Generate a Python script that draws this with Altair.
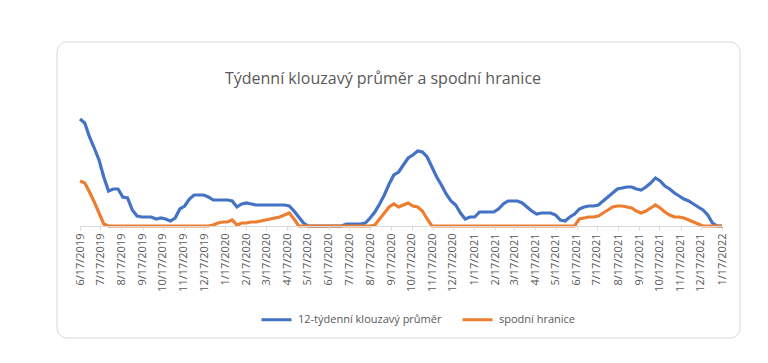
import altair as alt
import pandas as pd

# weekly points starting 6/17/2019
start_date = "2019-06-17"
n_weeks = 136

series_names = ["12-týdenní klouzavý průměr", "spodní hranice"]
series_colors = ["#4472C4", "#ED7D31"]

moving_avg = [107, 103, 89, 78, 66, 49, 35, 37, 37, 29,
              28, 16, 10, 9, 9, 9, 7, 8, 7, 5,
              8, 17, 20, 27, 31, 31, 31, 29, 26, 26,
              26, 26, 25, 19, 22, 23, 22, 21, 21, 21,
              21, 21, 21, 21, 20, 15, 9, 3, 0, 0,
              0, 0, 0, 0, 0, 0, 2, 2, 2, 2,
              3, 8, 14, 22, 31, 42, 51, 54, 61, 68,
              71, 75, 74, 69, 59, 49, 41, 32, 25, 21,
              13, 7, 9, 9, 14, 14, 14, 14, 17, 22,
              25, 25, 25, 23, 19, 15, 12, 13, 13, 13,
              11, 6, 5, 9, 12, 17, 19, 20, 20, 21,
              25, 29, 33, 37, 38, 39, 39, 37, 36, 39,
              43, 48, 45, 40, 37, 33, 30, 27, 25, 22,
              19, 16, 11, 3, 0, 0]

lower_bound = [45, 43, 34, 24, 13, 2, 0, 0, 0, 0,
               0, 0, 0, 0, 0, 0, 0, 0, 0, 0,
               0, 0, 0, 0, 0, 0, 0, 0, 1, 3,
               4, 4, 6, 1, 3, 3, 4, 4, 5, 6,
               7, 8, 9, 11, 13, 7, 0, 0, 0, 0,
               0, 0, 0, 0, 0, 0, 0, 0, 0, 0,
               0, 0, 1, 7, 13, 19, 22, 19, 21, 23,
               20, 19, 15, 7, 0, 0, 0, 0, 0, 0,
               0, 0, 0, 0, 0, 0, 0, 0, 0, 0,
               0, 0, 0, 0, 0, 0, 0, 0, 0, 0,
               0, 0, 0, 0, 0, 7, 8, 9, 9, 10,
               13, 16, 19, 20, 20, 19, 18, 15, 13, 15,
               18, 21, 18, 14, 11, 9, 9, 8, 6, 4,
               2, 0, 0, 0, 0, 0]

# tick labels: the 17th of every month, 6/2019 .. 1/2022
tick_months = [(2019, m) for m in range(6, 13)] + [(2020, m) for m in range(1, 13)] + \
              [(2021, m) for m in range(1, 13)] + [(2022, 1)]

dates = pd.date_range(start_date, periods=n_weeks, freq="7D").strftime("%Y-%m-%dT00:00:00")
df = pd.concat([
    pd.DataFrame({"date": dates, "value": moving_avg, "series": series_names[0]}),
    pd.DataFrame({"date": dates, "value": lower_bound, "series": series_names[1]}),
])

FONT = "Open Sans"
GREY = "#595959"

x_enc = alt.X(
    "date:T",
    scale=alt.Scale(domain=[alt.DateTime(year=2019, month=6, date=17),
                            alt.DateTime(year=2022, month=1, date=17)]),
    axis=alt.Axis(
        title=None,
        values=[alt.DateTime(year=y, month=m, date=17) for y, m in tick_months],
        format="%-m/%-d/%Y",
        labelAngle=-90,
        labelFontSize=11,
        labelColor=GREY,
        labelFont=FONT,
        labelPadding=3,
        labelOverlap=False,
        domainColor="#d9d9d9",
        tickColor="#d9d9d9",
        tickSize=4,
        grid=False,
        zindex=1,
    ),
)
y_enc = alt.Y("value:Q", scale=alt.Scale(domain=[0, 120]), axis=None)
color_enc = alt.Color(
    "series:N",
    scale=alt.Scale(domain=series_names, range=series_colors),
    legend=alt.Legend(
        title=None,
        orient="none",
        legendX=180,
        legendY=197,
        direction="horizontal",
        symbolType="stroke",
        symbolStrokeWidth=3,
        symbolSize=900,
        labelFontSize=11,
        labelFont=FONT,
        labelColor=GREY,
        labelOffset=5,
        columnPadding=14,
        padding=0,
    ),
)

box = alt.Chart(pd.DataFrame({"a": [0]})).mark_rect(
    fill="white", stroke="#d9d9d9", strokeWidth=1, cornerRadius=10
).encode(
    x=alt.value(-23), x2=alt.value(660), y=alt.value(-64), y2=alt.value(232)
)

base = alt.Chart(df)
blue = base.transform_filter(alt.datum.series == series_names[0]).mark_line(
    strokeWidth=3.2
).encode(x=x_enc, y=y_enc, color=color_enc)
orange = base.transform_filter(alt.datum.series == series_names[1]).mark_line(
    strokeWidth=3.2
).encode(x=x_enc, y=y_enc, color=color_enc)

chart = alt.layer(box, blue, orange).properties(
    width=642,
    height=120,
    autosize=alt.AutoSizeParams(type="none"),
    padding={"left": 72, "top": 98, "right": 30, "bottom": 120},
    title=alt.TitleParams(
        "Týdenní klouzavý průměr a spodní hranice",
        font=FONT,
        fontSize=16,
        fontWeight="normal",
        color=GREY,
        anchor="middle",
        dx=-18,
        offset=-45,
    ),
).configure_view(strokeWidth=0)

chart.save("out.html", embed_options={"renderer": "svg", "actions": False})
